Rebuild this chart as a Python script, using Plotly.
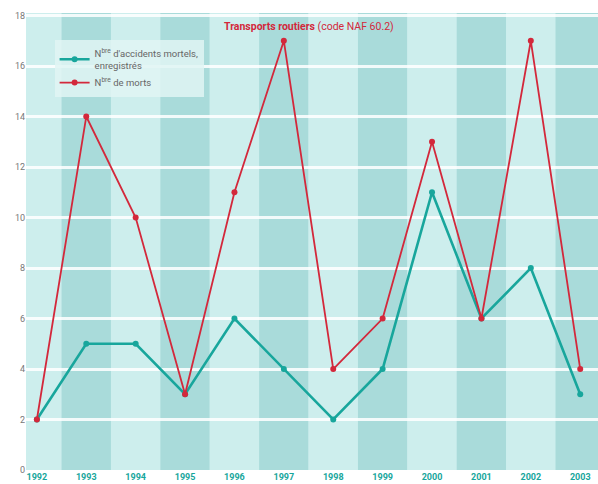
import plotly.graph_objects as go

years = [1992, 1993, 1994, 1995, 1996, 1997, 1998, 1999, 2000, 2001, 2002, 2003]
year_labels = [str(y) for y in years]
accidents = [2, 5, 5, 3, 6, 4, 2, 4, 11, 6, 8, 3]
deaths = [2, 14, 10, 3, 11, 17, 4, 6, 13, 6, 17, 4]
y_ticks = [0, 2, 4, 6, 8, 10, 12, 14, 16, 18]

TEAL = "#18a69c"
RED = "#d3283b"
BAND_DARK = "#a9dbda"
BAND_LIGHT = "#cdeeed"
FONT = "Liberation Sans Narrow, Roboto, sans-serif"

fig = go.Figure()

fig.add_trace(go.Scatter(
    x=years, y=accidents, mode="lines+markers",
    name="N<sup>bre</sup> d'accidents mortels,<br>enregistrés",
    line=dict(color=TEAL, width=2.6),
    marker=dict(color=TEAL, size=6),
))
fig.add_trace(go.Scatter(
    x=years, y=deaths, mode="lines+markers",
    name="N<sup>bre</sup> de morts",
    line=dict(color=RED, width=1.8),
    marker=dict(color=RED, size=6),
))

# alternating vertical bands, one per year
shapes = []
for i, yr in enumerate(years):
    shapes.append(dict(
        type="rect", xref="x", yref="paper", layer="below",
        x0=yr - 0.5, x1=yr + 0.5, y0=0, y1=1,
        fillcolor=BAND_LIGHT if i % 2 == 0 else BAND_DARK, line_width=0,
    ))
fig.update_layout(shapes=shapes)

fig.add_annotation(
    x=1997.5, y=17.55, xref="x", yref="y", showarrow=False,
    text="<b>Transports routiers</b> (code NAF 60.2)",
    font=dict(family=FONT, size=10.5, color=RED),
)

fig.update_layout(
    width=598, height=484,
    margin=dict(l=26, r=0, t=13, b=14),
    paper_bgcolor="white",
    plot_bgcolor=BAND_LIGHT,
    font=dict(family=FONT, size=9, color="#666"),
    showlegend=True,
    legend=dict(
        x=0.05, y=0.94, xanchor="left", yanchor="top",
        bgcolor="rgba(225,244,243,0.85)", borderwidth=0,
        font=dict(family=FONT, size=9.5, color="#666"),
        itemwidth=30, tracegroupgap=2,
    ),
    xaxis=dict(
        range=[1991.78, 2003.36], tickmode="array",
        tickvals=years, ticktext=year_labels,
        showgrid=False, zeroline=False, ticks="",
        tickfont=dict(family=FONT, size=9, color=TEAL, weight="bold"),
    ),
    yaxis=dict(
        range=[0, 18.1], tickmode="array", tickvals=y_ticks,
        showgrid=True, gridcolor="rgba(255,255,255,0.85)", gridwidth=2.5,
        zeroline=False, ticks="",
        tickfont=dict(family=FONT, size=9, color="#777"),
    ),
)

fig.write_html("out.html")
